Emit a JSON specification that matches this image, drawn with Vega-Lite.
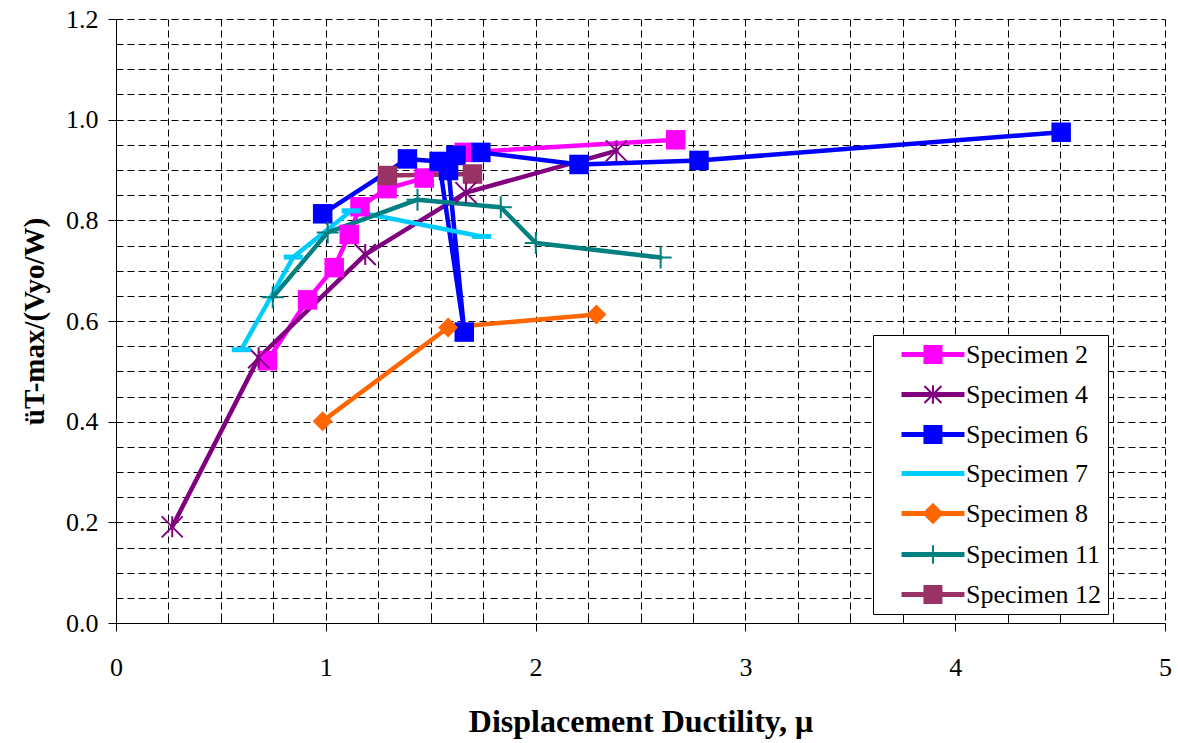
{
  "$schema": "https://vega.github.io/schema/vega-lite/v6.json",
  "width": 1049,
  "height": 604,
  "autosize": "none",
  "padding": {"left": 116, "top": 19, "right": 13, "bottom": 120},
  "background": "white",
  "config": {
    "font": "'Liberation Serif', 'Times New Roman', serif",
    "view": {"stroke": null},
    "axis": {"labelFont": "'Liberation Serif', 'Times New Roman', serif", "titleFont": "'Liberation Serif', 'Times New Roman', serif", "labelColor": "black", "titleColor": "black", "domainColor": "black", "tickColor": "black", "gridColor": "black", "gridDash": [7, 4], "gridWidth": 1, "gridOpacity": 1},
    "legend": {"labelFont": "'Liberation Serif', 'Times New Roman', serif"}
  },
  "data": {
    "values": [
      {"s": "Specimen 2", "i": 1, "x": 0.722, "y": 0.521},
      {"s": "Specimen 2", "i": 2, "x": 0.913, "y": 0.642},
      {"s": "Specimen 2", "i": 3, "x": 1.040, "y": 0.706},
      {"s": "Specimen 2", "i": 4, "x": 1.112, "y": 0.772},
      {"s": "Specimen 2", "i": 5, "x": 1.163, "y": 0.827},
      {"s": "Specimen 2", "i": 6, "x": 1.292, "y": 0.863},
      {"s": "Specimen 2", "i": 7, "x": 1.469, "y": 0.884},
      {"s": "Specimen 2", "i": 8, "x": 1.660, "y": 0.935},
      {"s": "Specimen 2", "i": 9, "x": 2.668, "y": 0.960},
      {"s": "Specimen 4", "i": 1, "x": 0.268, "y": 0.191},
      {"s": "Specimen 4", "i": 2, "x": 0.680, "y": 0.527},
      {"s": "Specimen 4", "i": 3, "x": 1.188, "y": 0.732},
      {"s": "Specimen 4", "i": 4, "x": 1.668, "y": 0.855},
      {"s": "Specimen 4", "i": 5, "x": 2.385, "y": 0.938},
      {"s": "Specimen 6", "i": 1, "x": 0.985, "y": 0.813},
      {"s": "Specimen 6", "i": 2, "x": 1.389, "y": 0.922},
      {"s": "Specimen 6", "i": 3, "x": 1.540, "y": 0.917},
      {"s": "Specimen 6", "i": 4, "x": 1.660, "y": 0.578},
      {"s": "Specimen 6", "i": 5, "x": 1.585, "y": 0.899},
      {"s": "Specimen 6", "i": 6, "x": 1.620, "y": 0.929},
      {"s": "Specimen 6", "i": 7, "x": 1.739, "y": 0.935},
      {"s": "Specimen 6", "i": 8, "x": 2.207, "y": 0.911},
      {"s": "Specimen 6", "i": 9, "x": 2.779, "y": 0.919},
      {"s": "Specimen 6", "i": 10, "x": 4.505, "y": 0.975},
      {"s": "Specimen 7", "i": 1, "x": 0.597, "y": 0.543},
      {"s": "Specimen 7", "i": 2, "x": 0.845, "y": 0.727},
      {"s": "Specimen 7", "i": 3, "x": 1.121, "y": 0.819},
      {"s": "Specimen 7", "i": 4, "x": 1.743, "y": 0.768},
      {"s": "Specimen 8", "i": 1, "x": 0.985, "y": 0.401},
      {"s": "Specimen 8", "i": 2, "x": 1.583, "y": 0.587},
      {"s": "Specimen 8", "i": 3, "x": 2.290, "y": 0.613},
      {"s": "Specimen 11", "i": 1, "x": 0.747, "y": 0.647},
      {"s": "Specimen 11", "i": 2, "x": 1.009, "y": 0.776},
      {"s": "Specimen 11", "i": 3, "x": 1.437, "y": 0.841},
      {"s": "Specimen 11", "i": 4, "x": 1.834, "y": 0.826},
      {"s": "Specimen 11", "i": 5, "x": 2.001, "y": 0.755},
      {"s": "Specimen 11", "i": 6, "x": 2.596, "y": 0.726},
      {"s": "Specimen 12", "i": 1, "x": 1.294, "y": 0.889},
      {"s": "Specimen 12", "i": 2, "x": 1.699, "y": 0.892}
    ]
  },
  "encoding": {
    "x": {
      "field": "x", "type": "quantitative",
      "scale": {"domain": [0, 5], "nice": false, "zero": false},
      "axis": {
        "title": "Displacement Ductility, μ",
        "titleFontSize": 32, "titleFontWeight": "bold", "titlePadding": 26,
        "values": [0, 0.25, 0.5, 0.75, 1, 1.25, 1.5, 1.75, 2, 2.25, 2.5, 2.75, 3, 3.25, 3.5, 3.75, 4, 4.25, 4.5, 4.75, 5],
        "labelExpr": "datum.value % 1 === 0 ? format(datum.value, 'd') : ''",
        "labelFontSize": 26, "labelPadding": 23, "labelFlush": false, "labelOverlap": false,
        "tickSize": {"condition": {"test": "datum.value % 1 === 0", "value": 8}, "value": -5},
        "grid": true
      }
    },
    "y": {
      "field": "y", "type": "quantitative",
      "scale": {"domain": [0, 1.2], "nice": false, "zero": false},
      "axis": {
        "title": "üT-max/(Vyo/W)",
        "titleFontSize": 29, "titleFontWeight": "bold", "titlePadding": 16,
        "values": [0, 0.05, 0.1, 0.15, 0.2, 0.25, 0.3, 0.35, 0.4, 0.45, 0.5, 0.55, 0.6, 0.65, 0.7, 0.75, 0.8, 0.85, 0.9, 0.95, 1, 1.05, 1.1, 1.15, 1.2],
        "labelExpr": "abs(datum.value * 5 - round(datum.value * 5)) < 0.001 ? format(datum.value, '.1f') : ''",
        "labelFontSize": 26, "labelPadding": 10, "labelFlush": false, "labelOverlap": false,
        "tickSize": {"condition": {"test": "abs(datum.value * 5 - round(datum.value * 5)) < 0.001", "value": 8}, "value": -5},
        "grid": true
      }
    },
    "color": {
      "field": "s", "type": "nominal",
      "scale": {
        "domain": ["Specimen 2", "Specimen 4", "Specimen 6", "Specimen 7", "Specimen 8", "Specimen 11", "Specimen 12"],
        "range": ["#FF00FF", "#800080", "#0000FF", "#00CCFF", "#FF6600", "#008080", "#993366"]
      },
      "legend": {
        "title": null,
        "orient": "none",
        "legendX": 757,
        "legendY": 316,
        "padding": 6.5,
        "strokeColor": "black",
        "fillColor": "white",
        "cornerRadius": 0,
        "labelFont": "'Liberation Serif', 'Times New Roman', serif",
        "labelFontSize": 26,
        "labelColor": "black",
        "labelOffset": 60.5,
        "labelLimit": 300,
        "symbolSize": 289,
        "symbolStrokeWidth": 2,
        "rowPadding": 13,
        "encode": {
          "symbols": {
            "update": {
              "shape": {"signal": "datum.value === 'Specimen 7' ? 'M1.18,-0.18H8.35V0.18H1.18Z' : datum.value === 'Specimen 4' ? 'M1.18,-0.18H8.35V0.18H1.18Z M3.76,-1L5.76,1M3.76,1L5.76,-1M4.76,-1.1V1.1' : datum.value === 'Specimen 11' ? 'M1.18,-0.18H8.35V0.18H1.18Z M4.76,-1.1V1.1' : datum.value === 'Specimen 8' ? 'M1.18,-0.18H8.35V0.18H1.18Z M4.76,-1.1L5.86,0L4.76,1.1L3.66,0Z' : 'M1.18,-0.18H8.35V0.18H1.18Z M3.76,-1H5.76V1H3.76Z'"},
              "fill": {"scale": "color", "field": "value"},
              "stroke": {"scale": "color", "field": "value"},
              "strokeWidth": {"value": 2},
              "opacity": {"value": 1},
              "fillOpacity": {"value": 1},
              "strokeOpacity": {"value": 1}
            }
          }
        }
      }
    }
  },
  "layer": [
    {
      "mark": {"type": "line", "strokeWidth": 4.5, "strokeJoin": "round", "strokeCap": "round"},
      "encoding": {"order": {"field": "i", "type": "quantitative"}}
    },
    {
      "transform": [{"filter": {"field": "s", "oneOf": ["Specimen 2", "Specimen 6", "Specimen 12"]}}],
      "mark": {"type": "point", "shape": "M-1,-1H1V1H-1Z", "filled": true, "opacity": 1, "size": 380, "strokeWidth": 0}
    },
    {
      "transform": [{"filter": {"field": "s", "equal": "Specimen 8"}}],
      "mark": {"type": "point", "shape": "M0,-1L1,0L0,1L-1,0Z", "filled": true, "opacity": 1, "size": 400, "strokeWidth": 0}
    },
    {
      "transform": [{"filter": {"field": "s", "equal": "Specimen 4"}}],
      "mark": {"type": "point", "shape": "M-1,-1L1,1M-1,1L1,-1M0,-1V1", "filled": false, "opacity": 1, "size": 441, "strokeWidth": 2}
    },
    {
      "transform": [{"filter": {"field": "s", "equal": "Specimen 11"}}],
      "mark": {"type": "point", "shape": "M0,-1V1M-1,0H1", "filled": false, "opacity": 1, "size": 484, "strokeWidth": 2}
    },
    {
      "transform": [{"filter": {"field": "s", "equal": "Specimen 7"}}],
      "mark": {"type": "point", "shape": "M-1,0H1", "filled": false, "opacity": 1, "size": 361, "strokeWidth": 5}
    }
  ]
}
